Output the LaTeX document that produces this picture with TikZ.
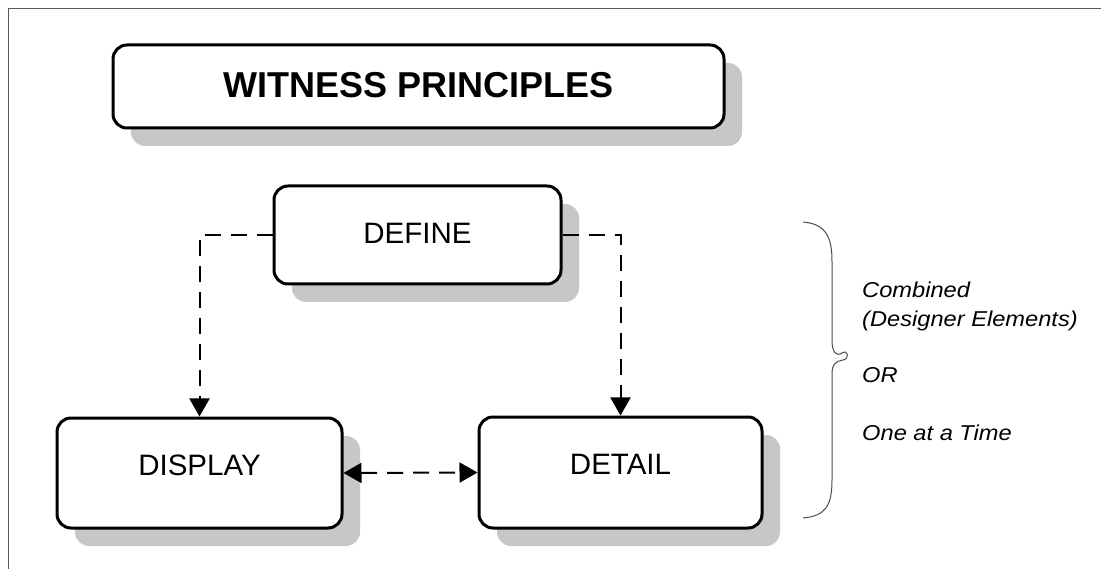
\documentclass[tikz,border=0pt]{standalone}
\usepackage{fontspec}
\setmainfont{Liberation Sans}
\newfontfamily\sidefont[FakeStretch=1.1]{Liberation Sans}
\usetikzlibrary{arrows.meta,shadows}
\newcommand{\boxtext}[2]{\smash{\raisebox{#1}{#2}}}
\begin{document}
\begin{tikzpicture}[x=1pt,y=-1pt,
  box/.style={draw=black, line width=3pt, rounded corners=14pt, fill=white,
    inner sep=0pt, font=\fontsize{29.5}{34}\selectfont,
    general shadow={fill=black!22, shadow xshift=18pt, shadow yshift=-18pt}},
  dashline/.style={line width=2pt, dash pattern=on 16pt off 10pt},
  tip/.style={-{Triangle[width=20pt,length=18pt]}},
  side/.style={anchor=base west, inner sep=0pt, font=\fontsize{21.5}{26}\sidefont\itshape}]
\useasboundingbox (0,0) rectangle (1101,569);
\fill[white] (0,0) rectangle (1101,569);
\draw[black!65, line width=1.5pt] (8.5,569) -- (8.5,8.5) -- (1101,8.5);
% boxes
\node[box, minimum width=611pt, minimum height=83pt,
  font=\fontsize{36}{40}\selectfont\bfseries] (title) at (418.5,86.5) {\boxtext{-10.8pt}{WITNESS PRINCIPLES}};
\node[box, minimum width=287pt, minimum height=98pt] (define) at (417.5,235) {\boxtext{-9pt}{DEFINE}};
\node[box, minimum width=285pt, minimum height=110pt] (display) at (199.5,473) {\boxtext{-2pt}{DISPLAY}};
\node[box, minimum width=283pt, minimum height=111pt] (detail) at (620.5,472.5) {\boxtext{-1.5pt}{DETAIL}};
% connectors
\draw[dashline, tip] (define.west) -| (display.north);
\draw[dashline, tip] (define.east) -| (detail.north);
\draw[dashline, {Triangle[width=20pt,length=18pt]}-{Triangle[width=20pt,length=18pt]}] (display.east) -- (detail.west);
% brace
\draw[black!70, line width=1pt]
  (803,222) .. controls (828,224) and (832,240) .. (832,262)
  -- (832,340) .. controls (832,352) and (836,357) .. (842,353)
  .. controls (848,349) and (850,359) .. (843,360)
  .. controls (836,361) and (832,364) .. (832,374)
  -- (832,480) .. controls (832,505) and (826,516) .. (803,518);
% side texts
\node[side] (t1) at (862,298) {Combined};
\node[side] (t2) at (862,327) {(Designer Elements)};
\node[side] (t3) at (862,383) {OR};
\node[side] (t4) at (862,440) {One at a Time};
\end{tikzpicture}
\end{document}
